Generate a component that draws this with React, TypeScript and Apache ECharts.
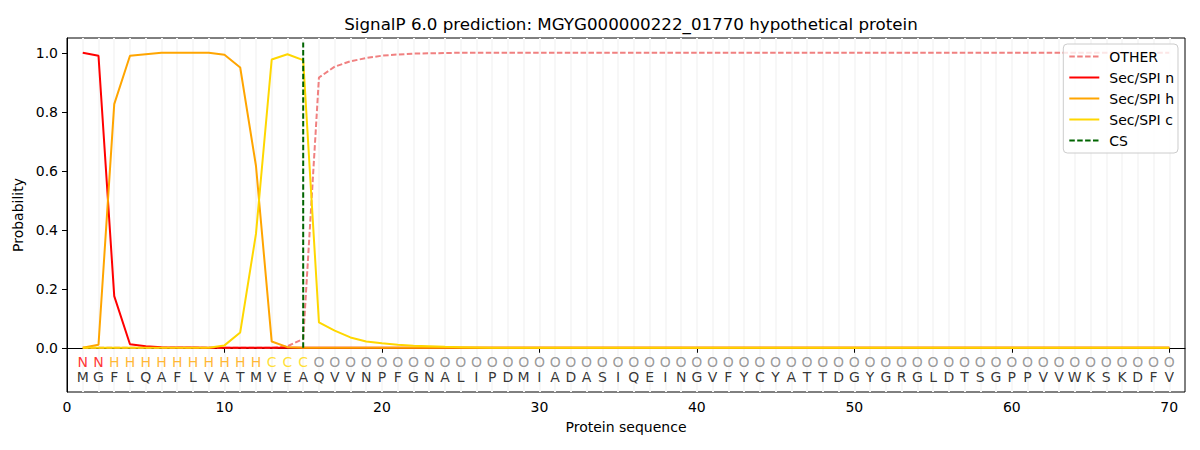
import { useEffect, useRef } from 'react';
import * as echarts from 'echarts';

const title = 'SignalP 6.0 prediction: MGYG000000222_01770 hypothetical protein';

const sequence = 'MGFLQAFLVATMVEAQVVNPFGNALIPDMIADASIQEINGVFYCYATTDGYGRGLDTSGPPVVWKSKDFV';
const regions =
  'NNHHHHHHHHHHCCC' +
  'OOOOOOOOOO' + 'OOOOOOOOOO' + 'OOOOOOOOOO' + 'OOOOOOOOOO' + 'OOOOOOOOOO' + 'OOOOO';

const regionColors: Record<string, string> = {
  N: '#ff0000',
  H: '#ffa500',
  C: '#ffd700',
  O: '#808080',
};

const positions = sequence.split('').map((_, i) => i + 1);

const otherProb = [
  0, 0, 0, 0, 0, 0, 0, 0, 0, 0,
  0, 0, 0, 0.005, 0.03, 0.916, 0.953, 0.971, 0.982, 0.99,
  0.994, 0.997, 0.998, 0.999, 1, 1, 1, 1, 1, 1,
  1, 1, 1, 1, 1, 1, 1, 1, 1, 1,
  1, 1, 1, 1, 1, 1, 1, 1, 1, 1,
  1, 1, 1, 1, 1, 1, 1, 1, 1, 1,
  1, 1, 1, 1, 1, 1, 1, 1, 1, 1,
];

const nProb = [
  1.0, 0.99, 0.175, 0.012, 0.005, 0.002, 0.001, 0.001, 0, 0,
  0, 0, 0, 0, 0, 0, 0, 0, 0, 0,
  0, 0, 0, 0, 0, 0, 0, 0, 0, 0,
  0, 0, 0, 0, 0, 0, 0, 0, 0, 0,
  0, 0, 0, 0, 0, 0, 0, 0, 0, 0,
  0, 0, 0, 0, 0, 0, 0, 0, 0, 0,
  0, 0, 0, 0, 0, 0, 0, 0, 0, 0,
];

const hProb = [
  0, 0.01, 0.826, 0.99, 0.995, 1, 1, 1, 1, 0.993,
  0.95, 0.617, 0.021, 0.002, 0, 0, 0, 0, 0, 0,
  0, 0, 0, 0, 0, 0, 0, 0, 0, 0,
  0, 0, 0, 0, 0, 0, 0, 0, 0, 0,
  0, 0, 0, 0, 0, 0, 0, 0, 0, 0,
  0, 0, 0, 0, 0, 0, 0, 0, 0, 0,
  0, 0, 0, 0, 0, 0, 0, 0, 0, 0,
];

const cProb = [
  0, 0, 0, 0, 0, 0, 0, 0, 0, 0.008,
  0.052, 0.386, 0.977, 0.995, 0.975, 0.086, 0.058, 0.035, 0.021, 0.015,
  0.01, 0.007, 0.005, 0.003, 0.002, 0.001, 0, 0, 0, 0,
  0, 0, 0, 0, 0, 0, 0, 0, 0, 0,
  0, 0, 0, 0, 0, 0, 0, 0, 0, 0,
  0, 0, 0, 0, 0, 0, 0, 0, 0, 0,
  0, 0, 0, 0, 0, 0, 0, 0, 0, 0,
];

const csPos = 15;
const csTop = 1.035;

const xTicks = [0, 10, 20, 30, 40, 50, 60, 70];
const yTicks = [0, 0.2, 0.4, 0.6, 0.8, 1.0];

const regionRowY = -0.047;
const sequenceRowY = -0.098;

const font = 'DejaVu Sans';

const pairs = (ys: number[]) => positions.map((p, i) => [p, ys[i]]);

export default function App() {
  const chartRef = useRef<HTMLDivElement>(null);

  useEffect(() => {
    if (!chartRef.current) return;
    document.body.style.margin = '0';
    const chart = echarts.init(chartRef.current, null, { renderer: 'svg' });

    const lineSeries = (name: string, data: number[], color: string, dashed = false) => ({
      name,
      type: 'line',
      data: pairs(data),
      symbol: 'none',
      showSymbol: false,
      lineStyle: { color, width: 2, type: dashed ? [5.5, 2.4] : 'solid' },
      itemStyle: { color },
    });

    const option = {
      animation: false,
      textStyle: { fontFamily: font },
      title: {
        text: title,
        left: 626,
        top: 10,
        textAlign: 'center',
        textStyle: { fontSize: 16.7, fontWeight: 'normal', color: '#000', fontFamily: font },
      },
      legend: {
        data: ['OTHER', 'Sec/SPI n', 'Sec/SPI h', 'Sec/SPI c', 'CS'],
        orient: 'vertical',
        right: 22,
        top: 44,
        backgroundColor: 'rgba(255,255,255,0.8)',
        borderColor: '#cccccc',
        borderWidth: 1,
        borderRadius: 4,
        padding: [5.5, 4, 5.5, 5],
        itemGap: 7,
        itemWidth: 30,
        itemHeight: 14,
        itemStyle: { opacity: 0 },
        textStyle: { fontSize: 14, color: '#000', fontFamily: font, padding: [0, 0, 0, 5] },
      },
      grid: {
        left: 67,
        right: 15,
        top: 38,
        bottom: 58,
        show: true,
        borderColor: '#000',
        borderWidth: 1,
        backgroundColor: 'transparent',
      },
      xAxis: [
        {
          type: 'value',
          min: 0,
          max: 71,
          name: 'Protein sequence',
          nameLocation: 'middle',
          nameGap: 28,
          nameTextStyle: { fontSize: 14, color: '#000', fontFamily: font },
          axisLine: { show: true, lineStyle: { color: '#000', width: 1 } },
          axisTick: { show: true, length: 5, customValues: xTicks, lineStyle: { color: '#000' } },
          axisLabel: {
            customValues: xTicks,
            margin: 8,
            fontSize: 14,
            color: '#000',
            fontFamily: font,
          },
          splitLine: { show: false },
        },
        {
          type: 'value',
          min: 0,
          max: 71,
          interval: 1,
          position: 'top',
          axisLine: { show: false },
          axisTick: { show: false, customValues: positions },
          axisLabel: { show: false },
          splitLine: { show: true, lineStyle: { color: '#f7f7f7', width: 2 } },
        },
      ],
      yAxis: {
        type: 'value',
        min: -0.15,
        max: 1.05,
        name: 'Probability',
        nameLocation: 'middle',
        nameGap: 36,
        nameTextStyle: { fontSize: 14, color: '#000', fontFamily: font },
        axisLine: { show: true, lineStyle: { color: '#000', width: 1 } },
        axisTick: { show: true, length: 5, customValues: yTicks, lineStyle: { color: '#000' } },
        axisLabel: {
          customValues: yTicks,
          margin: 9,
          fontSize: 14,
          color: '#000',
          fontFamily: font,
          formatter: (v: number) => v.toFixed(1),
        },
        splitLine: { show: false },
      },
      series: [
        lineSeries('OTHER', otherProb, '#f08080', true),
        lineSeries('Sec/SPI n', nProb, '#ff0000'),
        lineSeries('Sec/SPI h', hProb, '#ffa500'),
        lineSeries('Sec/SPI c', cProb, '#ffd700'),
        {
          name: 'CS',
          type: 'line',
          data: [
            [csPos, 0],
            [csPos, csTop],
          ],
          symbol: 'none',
          lineStyle: { color: '#006400', width: 2, type: [5.5, 2.4] },
          itemStyle: { color: '#006400' },
        },
        {
          name: 'regions',
          type: 'scatter',
          silent: true,
          symbolSize: 0,
          data: regions.split('').map((r, i) => ({
            value: [positions[i], regionRowY],
            label: { color: regionColors[r] },
          })),
          label: {
            show: true,
            position: 'inside',
            formatter: (p: any) => regions[p.dataIndex],
            fontSize: 14,
            fontFamily: font,
          },
        },
        {
          name: 'sequence',
          type: 'scatter',
          silent: true,
          symbolSize: 0,
          data: positions.map((p) => [p, sequenceRowY]),
          label: {
            show: true,
            position: 'inside',
            formatter: (p: any) => sequence[p.dataIndex],
            fontSize: 14,
            color: '#000',
            fontFamily: font,
          },
        },
      ],
    };

    chart.setOption(option as any);

    return () => {
      chart.dispose();
    };
  }, []);

  return <div ref={chartRef} style={{ width: '1200px', height: '450px' }} />;
}
